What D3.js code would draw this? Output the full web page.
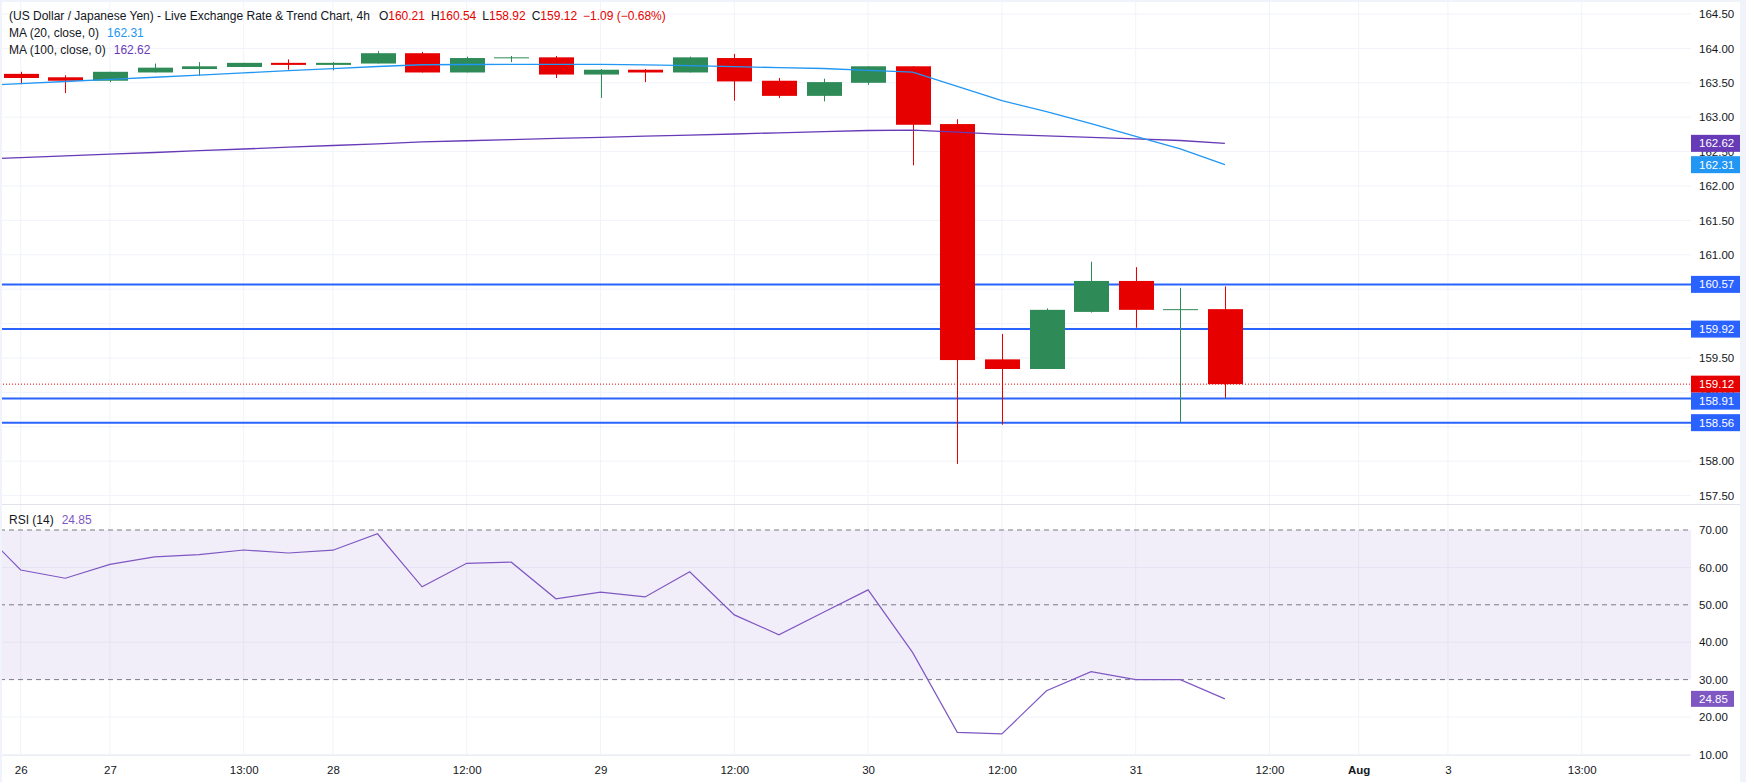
<html>
<head>
<script src="https://d3js.org/d3.v7.min.js" charset="utf-8"></script>
<style type="text/css">
body { margin: 0; background: #fff; }
svg { display: block; font-family: "Liberation Sans", Arial, sans-serif; }
</style>
</head>
<body>
<script type="text/javascript">
// size of the page and the panes
var w = 1746;
var h = 782;
var plotRight = 1691;
var paneSplit = 504;
var axisTop = 755;

// 4h candles, bar 0 .. 27
var opens  = [163.63,163.58,163.53,163.65,163.70,163.73,163.79,163.76,163.78,163.93,163.65,163.86,163.87,163.62,163.69,163.65,163.86,163.53,163.31,163.50,163.74,162.90,159.48,159.34,160.17,160.62,160.20,160.21];
var highs  = [163.66,163.61,163.66,163.78,163.80,163.79,163.84,163.80,163.96,163.95,163.88,163.89,163.89,163.70,163.70,163.88,163.92,163.57,163.56,163.74,163.74,162.97,159.85,160.22,160.90,160.82,160.52,160.54];
var lows   = [163.48,163.35,163.51,163.65,163.60,163.73,163.69,163.68,163.78,163.65,163.65,163.80,163.57,163.28,163.51,163.65,163.24,163.28,163.23,163.47,162.30,157.96,158.53,159.34,160.16,159.94,158.57,158.92];
var closes = [163.57,163.53,163.66,163.72,163.74,163.79,163.76,163.79,163.93,163.65,163.86,163.87,163.62,163.69,163.65,163.87,163.52,163.31,163.51,163.74,162.89,159.47,159.34,160.20,160.62,160.20,160.21,159.12];

// indicator values, bar -1 .. 27 (first one is just off the left edge)
var lineStart = -1;
var ma20  = [163.455,163.487,163.519,163.551,163.581,163.613,163.645,163.676,163.706,163.737,163.762,163.766,163.767,163.769,163.769,163.760,163.749,163.734,163.721,163.708,163.682,163.655,163.449,163.241,163.081,162.907,162.722,162.538,162.31];
var ma100 = [162.388,162.413,162.437,162.462,162.487,162.513,162.538,162.564,162.589,162.613,162.640,162.658,162.674,162.692,162.708,162.724,162.740,162.756,162.773,162.791,162.807,162.812,162.782,162.750,162.728,162.708,162.686,162.661,162.62];
var rsi   = [71.4,59.3,57.1,60.8,62.8,63.4,64.65,63.85,64.6,69.0,54.8,61.1,61.4,51.6,53.4,52.1,58.85,47.3,42.0,48.0,54.0,37.2,15.9,15.5,27.0,32.1,30.0,30.0,24.85];

// horizontal support / resistance lines and last price
var levels = [160.57, 159.92, 158.91, 158.56];
var lastPrice = 159.12;

// ticks
var priceTicks = [157.5,158,158.5,159,159.5,160,160.5,161,161.5,162,162.5,163,163.5,164,164.5];
var rsiTicks = [10,20,30,40,50,60,70];
var rsiGrid = [10,20,40,60];
var rsiDashed = [70,50,30];
var timeTicks  = [0,2,5,7,10,13,16,19,22,25,28,30,32,35];
var timeLabels = ["26","27","13:00","28","12:00","29","12:00","30","12:00","31","12:00","Aug","3","13:00"];

var upColor = "#2e8b57";
var downColor = "#e60000";
var gridColor = "#f0f3fa";
var textColor = "#131722";

// scales
var x = d3.scaleLinear().domain([0, 27]).range([20.7, 20.7 + 27 * 44.6]);
var y = d3.scaleLinear().domain([157.5, 164.5]).range([495.6, 14]);
var yr = d3.scaleLinear().domain([10, 70]).range([754.4, 530]);

var svg = d3.select("body")
	.append("svg")
	.attr("width", w)
	.attr("height", h);

svg.append("rect").attr("width", w).attr("height", h).attr("fill", "#fff");

var defs = svg.append("defs");
defs.append("clipPath").attr("id", "clipPrice")
	.append("rect").attr("x", 0).attr("y", 0).attr("width", plotRight).attr("height", paneSplit);
defs.append("clipPath").attr("id", "clipRsi")
	.append("rect").attr("x", 0).attr("y", paneSplit).attr("width", plotRight).attr("height", axisTop - paneSplit);

// grid
var grid = svg.append("g");
grid.selectAll(".vg").data(timeTicks).enter().append("line")
	.attr("x1", function(d) { return x(d); })
	.attr("x2", function(d) { return x(d); })
	.attr("y1", 0).attr("y2", axisTop)
	.attr("stroke", gridColor).attr("stroke-width", 1);
grid.selectAll(".hg").data(priceTicks).enter().append("line")
	.attr("x1", 0).attr("x2", plotRight)
	.attr("y1", function(d) { return y(d); })
	.attr("y2", function(d) { return y(d); })
	.attr("stroke", gridColor).attr("stroke-width", 1);
grid.selectAll(".rg").data(rsiGrid).enter().append("line")
	.attr("x1", 0).attr("x2", plotRight)
	.attr("y1", function(d) { return yr(d); })
	.attr("y2", function(d) { return yr(d); })
	.attr("stroke", gridColor).attr("stroke-width", 1);

// pane separators
svg.append("line").attr("x1", 0).attr("x2", w).attr("y1", paneSplit + 0.5).attr("y2", paneSplit + 0.5)
	.attr("stroke", "#e0e3eb").attr("stroke-width", 1);
svg.append("line").attr("x1", 0).attr("x2", plotRight).attr("y1", axisTop + 0.5).attr("y2", axisTop + 0.5)
	.attr("stroke", "#eceef3").attr("stroke-width", 1);

// price pane
var price = svg.append("g").attr("clip-path", "url(#clipPrice)");

price.selectAll(".lvl").data(levels).enter().append("line")
	.attr("x1", 0).attr("x2", plotRight)
	.attr("y1", function(d) { return y(d); })
	.attr("y2", function(d) { return y(d); })
	.attr("stroke", "#2962ff").attr("stroke-width", 2);

price.append("line")
	.attr("x1", 0).attr("x2", plotRight)
	.attr("y1", y(lastPrice)).attr("y2", y(lastPrice))
	.attr("stroke", downColor).attr("stroke-width", 1)
	.attr("stroke-dasharray", "1,2");

var candles = opens.map(function(o, i) {
	return {i: i, o: o, h: highs[i], l: lows[i], c: closes[i]};
});
var bodyW = 35;
var cg = price.selectAll(".candle").data(candles).enter().append("g");
cg.append("line")
	.attr("x1", function(d) { return Math.round(x(d.i)) + 0.5; })
	.attr("x2", function(d) { return Math.round(x(d.i)) + 0.5; })
	.attr("y1", function(d) { return y(d.h); })
	.attr("y2", function(d) { return y(d.l); })
	.attr("stroke", function(d) { return d.c >= d.o ? upColor : downColor; })
	.attr("stroke-width", 1);
cg.append("rect")
	.attr("x", function(d) { return Math.round(x(d.i)) + 0.5 - bodyW / 2; })
	.attr("width", bodyW)
	.attr("y", function(d) { return y(Math.max(d.o, d.c)); })
	.attr("height", function(d) { return Math.max(1, Math.abs(y(d.o) - y(d.c))); })
	.attr("fill", function(d) { return d.c >= d.o ? upColor : downColor; });

var lineGen = function(scale) {
	return d3.line()
		.x(function(d, k) { return x(lineStart + k); })
		.y(function(d) { return scale(d); });
};
price.append("path").datum(ma100)
	.attr("d", lineGen(y))
	.attr("fill", "none").attr("stroke", "#673ab7").attr("stroke-width", 1.3);
price.append("path").datum(ma20)
	.attr("d", lineGen(y))
	.attr("fill", "none").attr("stroke", "#2196f3").attr("stroke-width", 1.3);

// RSI pane
var rp = svg.append("g").attr("clip-path", "url(#clipRsi)");
rp.append("rect")
	.attr("x", 0).attr("width", plotRight)
	.attr("y", yr(70)).attr("height", yr(30) - yr(70))
	.attr("fill", "rgba(126,87,194,0.1)");
rp.selectAll(".dash").data(rsiDashed).enter().append("line")
	.attr("x1", 0).attr("x2", plotRight)
	.attr("y1", function(d) { return yr(d); })
	.attr("y2", function(d) { return yr(d); })
	.attr("stroke", "#787b86").attr("stroke-width", 1)
	.attr("stroke-dasharray", "5,4");
rp.append("path").datum(rsi)
	.attr("d", lineGen(yr))
	.attr("fill", "none").attr("stroke", "#7e57c2").attr("stroke-width", 1.2);

// price badges on the right scale, pushed apart when they would overlap
var badges = [
	{v: 162.62, color: "#673ab7"},
	{v: 162.31, color: "#2196f3"},
	{v: levels[0], color: "#2962ff"},
	{v: levels[1], color: "#2962ff"},
	{v: lastPrice, color: downColor},
	{v: levels[2], color: "#2962ff"},
	{v: levels[3], color: "#2962ff"}
];
var bh = 17;
badges.forEach(function(b) { b.y = y(b.v); });
badges.sort(function(a, b) { return a.y - b.y; });
for (var i = 1; i < badges.length; i++) {
	if (badges[i].y - badges[i - 1].y < bh) badges[i].y = badges[i - 1].y + bh;
}

// tick labels that sit fully under a badge are dropped, as on the original scale
var shownTicks = priceTicks.filter(function(t) {
	return !badges.some(function(b) { return Math.abs(b.y - y(t)) < 6; });
});

// axes
function styleAxis(g) {
	g.select(".domain").remove();
	g.selectAll("text").attr("fill", textColor).attr("font-size", 11.5)
		.attr("font-family", "'Liberation Sans', Arial, sans-serif");
}
svg.append("g").attr("transform", "translate(" + plotRight + ",0)")
	.call(d3.axisRight(y).tickValues(shownTicks).tickFormat(d3.format(".2f")).tickSize(0).tickPadding(8))
	.call(styleAxis);
svg.append("g").attr("transform", "translate(" + plotRight + ",0)")
	.call(d3.axisRight(yr).tickValues(rsiTicks).tickFormat(d3.format(".2f")).tickSize(0).tickPadding(8))
	.call(styleAxis);
svg.append("g").attr("transform", "translate(0," + axisTop + ")")
	.call(d3.axisBottom(x).tickValues(timeTicks).tickFormat(function(d, k) { return timeLabels[k]; }).tickSize(0).tickPadding(11))
	.call(styleAxis)
	.selectAll("text").attr("font-weight", function(d, k) { return timeLabels[k] == "Aug" ? "bold" : "normal"; });

var bg = svg.selectAll(".badge").data(badges).enter().append("g");
bg.append("rect")
	.attr("x", plotRight).attr("width", 49)
	.attr("y", function(d) { return d.y - bh / 2; }).attr("height", bh)
	.attr("fill", function(d) { return d.color; });
bg.append("text")
	.text(function(d) { return d.v.toFixed(2); })
	.attr("x", plotRight + 8)
	.attr("y", function(d) { return d.y + 4; })
	.attr("font-size", 11.5).attr("fill", "#fff");

var rsiLast = rsi[rsi.length - 1];
svg.append("rect")
	.attr("x", plotRight).attr("width", 43)
	.attr("y", yr(rsiLast) - 8).attr("height", 16)
	.attr("fill", "#7e57c2");
svg.append("text")
	.text(rsiLast.toFixed(2))
	.attr("x", plotRight + 8).attr("y", yr(rsiLast) + 4)
	.attr("font-size", 11.5).attr("fill", "#fff");

// legends
var title = svg.append("text").attr("x", 9).attr("y", 20).attr("font-size", 12).attr("fill", textColor);
title.append("tspan").text("(US Dollar / Japanese Yen) - Live Exchange Rate & Trend Chart, 4h");
var ohlc = [["O", opens[27]], ["H", highs[27]], ["L", lows[27]], ["C", closes[27]]];
ohlc.forEach(function(p, k) {
	title.append("tspan").attr("dx", k == 0 ? 9 : 6).text(p[0]);
	title.append("tspan").attr("fill", downColor).text(p[1].toFixed(2));
});
title.append("tspan").attr("dx", 6).attr("fill", downColor).text("\u22121.09 (\u22120.68%)");

var leg1 = svg.append("text").attr("x", 9).attr("y", 37).attr("font-size", 12).attr("fill", textColor);
leg1.append("tspan").text("MA (20, close, 0)");
leg1.append("tspan").attr("dx", 8).attr("fill", "#2196f3").text(ma20[ma20.length - 1].toFixed(2));

var leg2 = svg.append("text").attr("x", 9).attr("y", 54).attr("font-size", 12).attr("fill", textColor);
leg2.append("tspan").text("MA (100, close, 0)");
leg2.append("tspan").attr("dx", 8).attr("fill", "#673ab7").text(ma100[ma100.length - 1].toFixed(2));

var leg3 = svg.append("text").attr("x", 9).attr("y", 524).attr("font-size", 12).attr("fill", textColor);
leg3.append("tspan").text("RSI (14)");
leg3.append("tspan").attr("dx", 8).attr("fill", "#7e57c2").text(rsiLast.toFixed(2));

// outer frame
svg.append("rect").attr("x", 0).attr("y", 0).attr("width", w).attr("height", 2).attr("fill", "#f0f3fa");
svg.append("rect").attr("x", 0).attr("y", 0).attr("width", 2).attr("height", h).attr("fill", "#f0f3fa");
svg.append("rect").attr("x", 1740).attr("y", 0).attr("width", 6).attr("height", h).attr("fill", "#f0f3fa");
</script>
</body>
</html>
